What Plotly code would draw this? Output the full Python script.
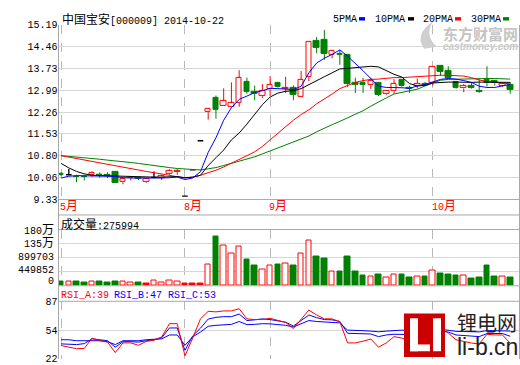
import plotly.graph_objects as go

W, H = 520, 365

# ---------------- data ----------------
month_labels = ["5月", "8月", "9月", "10月"]
month_index = [0, 16, 27, 48]

price_ticks = [9.33, 10.06, 10.80, 11.53, 12.26, 12.99, 13.73, 14.46, 15.19]
vol_ticks = [0, 449852, 899703, 1349555, 1799406]
vol_tick_text = ["0", "449852", "899703", "135万", "180万"]
rsi_ticks = [22, 54, 87]

open_ = [10.19, 10.16, 10.09, 10.09, 10.16, 10.17, 10.16, 10.24, 9.91, 10.04,
         10.04, 9.93, 10.07, 10.06, 10.19, 10.25, 9.44, 10.32, 11.30, 12.26,
         12.74, 12.48, 12.43, 12.58, 13.28, 12.95, 12.80, 13.04, 13.25, 13.03,
         13.07, 12.77, 13.44, 14.65, 14.69, 14.18, 14.23, 14.18, 13.26, 13.23,
         13.17, 13.23, 12.86, 12.96, 13.35, 13.09, 13.13, 13.22, 13.23, 13.80,
         13.64, 13.28, 13.06, 13.15, 12.99, 13.36, 13.31, 13.13, 13.18]
high = [10.25, 10.35, 10.16, 10.16, 10.27, 10.24, 10.24, 10.25, 10.05, 10.08,
        10.08, 10.03, 10.27, 10.16, 10.35, 10.35, 9.44, 10.32, 11.30, 12.40,
        12.82, 13.06, 13.26, 13.67, 13.42, 13.15, 13.20, 13.47, 13.27, 13.45,
        13.16, 13.64, 14.62, 14.78, 15.02, 14.35, 14.34, 14.20, 13.42, 13.42,
        13.42, 13.25, 13.00, 13.37, 13.36, 13.15, 13.39, 13.28, 13.80, 13.82,
        13.80, 13.30, 13.20, 13.26, 13.37, 13.80, 13.33, 13.24, 13.26]
low = [10.11, 10.16, 9.91, 9.97, 10.09, 10.06, 10.05, 9.87, 9.84, 9.97,
       9.98, 9.89, 10.06, 9.98, 10.16, 10.16, 9.44, 10.32, 11.30, 12.01,
       12.04, 12.47, 12.42, 12.44, 12.88, 12.66, 12.74, 12.80, 13.08, 12.90,
       12.66, 12.76, 13.30, 14.24, 14.02, 14.07, 13.85, 13.10, 12.90, 12.90,
       13.04, 12.80, 12.83, 12.88, 13.10, 12.91, 13.06, 13.15, 13.15, 13.48,
       13.39, 13.05, 12.93, 13.05, 12.91, 13.13, 13.15, 13.10, 12.88]
close = [10.17, 10.16, 10.08, 10.08, 10.21, 10.15, 10.13, 9.87, 10.02, 10.07,
         10.02, 10.02, 10.07, 10.11, 10.30, 10.28, 9.44, 10.32, 11.30, 12.37,
         12.34, 12.63, 12.56, 13.40, 12.95, 12.88, 12.99, 13.18, 13.10, 13.08,
         12.84, 13.35, 14.61, 14.43, 14.21, 14.32, 14.18, 13.20, 13.17, 13.18,
         13.31, 12.84, 12.99, 13.20, 13.13, 13.04, 13.22, 13.15, 13.78, 13.61,
         13.42, 13.07, 13.15, 13.07, 12.95, 13.23, 13.23, 13.22, 13.02]

volume = [140000, 130000, 140000, 110000, 150000, 130000, 120000, 140000, 130000, 110000,
          110000, 80000, 160000, 110000, 160000, 130000, 60000, 60000, 80000, 690000,
          1590000, 1280000, 1030000, 1260000, 850000, 640000, 530000, 640000, 680000, 720000,
          640000, 1030000, 1460000, 950000, 880000, 470000, 450000, 950000, 450000, 330000,
          290000, 360000, 250000, 350000, 360000, 260000, 290000, 300000, 500000, 390000,
          360000, 330000, 320000, 230000, 260000, 640000, 300000, 290000, 275994]
# 1 = up day, -1 = down day, 0 = limit / flat day
vol_trend = [-1, 1, -1, -1, 1, -1, -1, -1, 1, 1,
             -1, 0, 1, 1, 1, 1, 0, 0, 0, 1,
             -1, 1, 1, 1, -1, -1, 1, 1, -1, 1,
             -1, 1, 1, -1, -1, 1, -1, -1, -1, -1,
             1, -1, 1, 1, -1, -1, 1, -1, 1, -1,
             -1, -1, 1, -1, -1, -1, -1, 1, -1]

ma5 = [10.05, 10.11, 10.13, 10.13, 10.11, 10.11, 10.11, 10.10, 10.06, 10.05,
       10.05, 10.03, 10.05, 10.05, 10.06, 10.08, 10.00, 10.05, 10.26, 10.91,
       11.40, 11.99, 12.41, 12.69, 12.80, 12.92, 12.98, 13.06, 13.05, 13.03,
       13.02, 13.13, 13.58, 13.91, 14.07, 14.20, 14.35, 14.14, 13.91, 13.65,
       13.39, 13.13, 13.09, 13.09, 13.08, 13.06, 13.14, 13.19, 13.27, 13.36,
       13.39, 13.37, 13.32, 13.26, 13.13, 13.09, 13.09, 13.13, 13.19]
ma10 = [10.54, 10.39, 10.27, 10.19, 10.14, 10.13, 10.13, 10.11, 10.10, 10.10,
        10.10, 10.08, 10.08, 10.08, 10.10, 10.10, 10.06, 10.08, 10.14, 10.47,
        10.73, 10.99, 11.33, 11.56, 11.86, 12.18, 12.51, 12.77, 12.90, 12.96,
        12.98, 13.05, 13.19, 13.31, 13.45, 13.58, 13.71, 13.73, 13.75, 13.76,
        13.80, 13.78, 13.65, 13.53, 13.44, 13.22, 13.14, 13.16, 13.24, 13.26,
        13.27, 13.27, 13.26, 13.26, 13.27, 13.27, 13.27, 13.27, 13.26]
ma20 = [10.80, 10.75, 10.70, 10.65, 10.60, 10.57, 10.52, 10.47, 10.42, 10.37,
        10.32, 10.27, 10.23, 10.18, 10.13, 10.10, 10.05, 10.08, 10.14, 10.23,
        10.31, 10.42, 10.54, 10.67, 10.80, 10.93, 11.11, 11.33, 11.56, 11.76,
        11.99, 12.18, 12.34, 12.54, 12.70, 12.87, 13.05, 13.16, 13.26, 13.32,
        13.36, 13.37, 13.40, 13.42, 13.42, 13.44, 13.45, 13.47, 13.49, 13.50,
        13.50, 13.49, 13.47, 13.42, 13.34, 13.29, 13.26, 13.24, 13.21]
ma30 = [10.80, 10.78, 10.75, 10.73, 10.70, 10.68, 10.65, 10.63, 10.60, 10.57,
        10.54, 10.50, 10.47, 10.44, 10.40, 10.37, 10.35, 10.32, 10.32, 10.36,
        10.40, 10.47, 10.54, 10.60, 10.68, 10.76, 10.86, 10.96, 11.04, 11.14,
        11.24, 11.35, 11.46, 11.60, 11.73, 11.84, 11.95, 12.07, 12.18, 12.31,
        12.46, 12.61, 12.74, 12.87, 12.92, 12.96, 13.03, 13.14, 13.24, 13.33,
        13.36, 13.37, 13.37, 13.39, 13.39, 13.39, 13.39, 13.38, 13.37]

rsi_a = [36.4, 34.2, 32.8, 33.1, 44.9, 41.9, 40.3, 28.4, 39.4, 39.4,
         36.7, 41.1, 42.5, 46.3, 61.4, 61.4, 24.6, 44.9, 66.9, 75.5,
         74.9, 76.0, 76.0, 78.5, 66.9, 66.1, 66.1, 67.5, 65.0, 62.8,
         55.9, 66.7, 76.9, 71.4, 66.9, 66.9, 63.6, 39.4, 39.4, 41.4,
         43.8, 34.5, 39.4, 46.6, 44.9, 41.9, 48.5, 44.1, 61.4, 56.2,
         50.7, 43.0, 40.8, 39.2, 38.3, 49.3, 48.5, 48.5, 39.0]
rsi_b = [38.3, 38.1, 37.5, 38.6, 44.1, 43.0, 41.9, 34.5, 40.8, 40.8,
         40.3, 41.9, 43.0, 45.2, 56.5, 56.5, 30.9, 47.4, 56.2, 66.7,
         68.6, 69.4, 69.4, 72.4, 65.0, 65.8, 66.9, 66.1, 65.0, 63.1,
         58.7, 65.0, 71.3, 68.3, 66.1, 65.8, 63.9, 50.4, 50.4, 50.4,
         49.6, 46.6, 48.5, 49.3, 49.3, 49.0, 50.1, 49.0, 55.1, 53.4,
         51.8, 48.5, 47.7, 47.4, 46.6, 50.1, 50.1, 50.1, 47.0]
rsi_c = [43.0, 43.0, 41.9, 41.9, 41.9, 41.9, 40.8, 37.5, 41.9, 41.9,
         41.9, 43.0, 43.6, 44.1, 48.5, 48.5, 36.7, 46.3, 51.8, 58.4,
         59.5, 60.1, 60.6, 63.9, 60.3, 60.6, 61.4, 61.2, 60.6, 59.5,
         57.6, 61.7, 65.0, 63.9, 63.4, 63.4, 62.3, 54.0, 54.0, 53.4,
         52.9, 52.1, 52.9, 53.4, 54.0, 53.4, 54.0, 53.4, 56.2, 55.1,
         54.0, 52.6, 52.4, 52.2, 52.0, 53.5, 53.5, 53.5, 53.0]

# ---------------- styling ----------------
RED, GREEN, BLUE, BLACK = "#ff0000", "#008000", "#0000ff", "#000000"
GRID, BORDER = "#d6d6d6", "#a8a8a8"
MONO = "Liberation Mono, DejaVu Sans Mono, Noto Sans CJK SC, monospace"
FS = 10
BODY_W = 0.72


def px(x):
    return x / W


def py(y):
    return 1 - y / H


n = len(close)
idx = list(range(n))
fig = go.Figure()

# ---------- candles ----------
up = [i for i in idx if close[i] > open_[i]]
dn = [i for i in idx if close[i] < open_[i]]
flat = [i for i in idx if close[i] == open_[i]]


def wicks(ids):
    xs, ys = [], []
    for i in ids:
        top, bot = max(open_[i], close[i]), min(open_[i], close[i])
        if high[i] > top:
            xs += [i, i, None]
            ys += [top, high[i], None]
        if low[i] < bot:
            xs += [i, i, None]
            ys += [bot, low[i], None]
    return xs, ys


for ids, fill, col in [(up, "white", RED), (dn, GREEN, GREEN)]:
    fig.add_trace(go.Bar(
        x=ids, y=[abs(close[i] - open_[i]) for i in ids],
        base=[min(open_[i], close[i]) for i in ids], width=BODY_W,
        marker=dict(color=fill, line=dict(color=col, width=1)),
        xaxis="x", yaxis="y", hoverinfo="skip"))
    wx, wy = wicks(ids)
    fig.add_trace(go.Scatter(x=wx, y=wy, mode="lines", line=dict(color=col, width=1),
                             xaxis="x", yaxis="y", hoverinfo="skip"))

fx, fy = [], []
for i in flat:
    fx += [i - BODY_W / 2, i + BODY_W / 2, None]
    fy += [open_[i], open_[i], None]
    if high[i] > low[i]:
        fx += [i, i, None]
        fy += [low[i], high[i], None]
fig.add_trace(go.Scatter(x=fx, y=fy, mode="lines", line=dict(color=BLACK, width=1.3),
                         xaxis="x", yaxis="y", hoverinfo="skip"))

# ---------- moving averages ----------
for arr, col in [(ma30, GREEN), (ma20, RED), (ma10, BLACK), (ma5, BLUE)]:
    fig.add_trace(go.Scatter(x=idx, y=arr, mode="lines", line=dict(color=col, width=1),
                             xaxis="x", yaxis="y", hoverinfo="skip"))

# ---------- volume ----------
for t, fill, col in [(1, "white", RED), (-1, GREEN, GREEN), (0, RED, RED)]:
    ids = [i for i in idx if vol_trend[i] == t]
    fig.add_trace(go.Bar(x=ids, y=[volume[i] for i in ids], width=BODY_W,
                         marker=dict(color=fill, line=dict(color=col, width=1)),
                         xaxis="x", yaxis="y2", hoverinfo="skip"))

# ---------- RSI ----------
for arr, col in [(rsi_c, BLUE), (rsi_b, BLUE), (rsi_a, RED)]:
    fig.add_trace(go.Scatter(x=idx, y=arr, mode="lines", line=dict(color=col, width=1),
                             xaxis="x", yaxis="y3", hoverinfo="skip"))

# ---------- axes ----------
fig.update_layout(
    width=W, height=H, margin=dict(l=0, r=0, t=0, b=0),
    paper_bgcolor="white", plot_bgcolor="white", showlegend=False,
    barmode="overlay", bargap=0,
    xaxis=dict(domain=[px(58.5), px(519.5)], range=[-0.33, 59.2],
               tickvals=month_index, showticklabels=False, ticks="",
               showgrid=True, gridcolor="#b8b8b8", griddash="dash", gridwidth=1,
               zeroline=False, showline=False, anchor="y", fixedrange=True),
    yaxis=dict(domain=[py(200.5), py(20.5)], range=[price_ticks[0], price_ticks[-1]],
               tickvals=price_ticks, ticktext=[f"{v:.2f}" for v in price_ticks],
               tickfont=dict(family=MONO, size=FS, color=BLACK), ticks="",
               showgrid=True, gridcolor=GRID, zeroline=False, anchor="x"),
    yaxis2=dict(domain=[py(289.5), py(231.5)], range=[0, vol_ticks[-1]],
                tickvals=vol_ticks, showticklabels=False, ticks="",
                showgrid=True, gridcolor=GRID, zeroline=False, anchor="x"),
    yaxis3=dict(domain=[0, py(305.5)], range=[21, 87],
                tickvals=rsi_ticks, ticktext=[str(v) for v in rsi_ticks],
                tickfont=dict(family=MONO, size=FS, color=BLACK), ticks="",
                showgrid=True, gridcolor=GRID, zeroline=False, anchor="x"),
)

# ---------- borders ----------
shapes = []
for x in (58.5, 519.5):
    shapes.append(dict(type="line", xref="paper", yref="paper", x0=px(x), x1=px(x),
                       y0=py(20.5), y1=py(365), line=dict(color=BORDER, width=1)))
for y in (200.5, 216.5, 231.5, 289.5, 305.5):
    shapes.append(dict(type="line", xref="paper", yref="paper", x0=px(58.5), x1=px(519.5),
                       y0=py(y), y1=py(y), line=dict(color=BORDER, width=1)))

# legend dashes
for x0, col in [(359, BLUE), (408, BLACK), (455, RED), (503, GREEN)]:
    shapes.append(dict(type="rect", xref="paper", yref="paper", x0=px(x0), x1=px(x0 + 6),
                       y0=py(16), y1=py(12.5), fillcolor=col, line=dict(width=0)))

# east money watermark icon
shapes.append(dict(type="path", xref="paper", yref="paper",
                   path="M {} {} Q {} {} {} {} Q {} {} {} {} Z".format(
                       px(424), py(45), px(414), py(30), px(433), py(17),
                       px(424), py(32), px(437), py(43)),
                   fillcolor="#cfcfcf", line=dict(width=0)))

# LI logo
shapes.append(dict(type="rect", xref="paper", yref="paper", x0=px(404), x1=px(445),
                   y0=py(363), y1=py(318), fillcolor="#cc0000", line=dict(width=0),
                   layer="above"))
for (x0, x1, y0, y1) in [(410, 418, 323, 357), (410, 430, 350, 357), (433, 441, 323, 357)]:
    shapes.append(dict(type="rect", xref="paper", yref="paper", x0=px(x0), x1=px(x1),
                       y0=py(y1), y1=py(y0), fillcolor="white", line=dict(width=0),
                       layer="above"))
fig.update_layout(shapes=shapes)

# ---------- texts ----------
ann = []


def text(x, y, s, color=BLACK, size=FS, anchor="left", family=MONO):
    ann.append(dict(xref="paper", yref="paper", x=px(x), y=py(y), text=s,
                    showarrow=False, xanchor=anchor, yanchor="middle",
                    font=dict(family=family, size=size, color=color)))


cj = '<span style="font-size:12px">{}</span>'
text(60, 15, cj.format("中国宝安") + "[000009] 2014-10-22")
text(331, 14.5, "5PMA")
text(373, 14.5, "10PMA")
text(421, 14.5, "20PMA")
text(469, 14.5, "30PMA")

text(59, 227, cj.format("成交量") + ":" + f"{volume[-1]}")
text(59, 300, f"RSI_A:{rsi_a[-1]:.0f}", color=RED)
text(112, 300, f"RSI_B:{rsi_b[-1]:.0f}", color=BLUE)
text(166, 300, f"RSI_C:{rsi_c[-1]:.0f}", color=BLUE)

for lab, i in zip(month_labels, month_index):
    num, ch = lab[:-1], lab[-1]
    ann.append(dict(xref="x", yref="paper", x=i, y=py(208.5), xanchor="left", yanchor="middle",
                    xshift=-3, text=num + cj.format(ch), showarrow=False,
                    font=dict(family=MONO, size=FS, color=RED)))

for v, s, dy in zip(vol_ticks, vol_tick_text, [-4.5, -1, 0, 0, 1.5]):
    lab = s if "万" not in s else s[:-1] + cj.format("万")
    ann.append(dict(xref="paper", yref="y2", x=px(56), y=v, xanchor="right", yanchor="middle",
                    yshift=-dy, text=lab, showarrow=False,
                    font=dict(family=MONO, size=FS, color=BLACK)))

# watermark (east money)
text(441, 29.5, "<b>东方财富网</b>", color="#c4c4c4", size=15, family="Noto Sans CJK SC")
text(441, 43, "<b><i>eastmoney.com</i></b>", color="#c8c8c8", size=10, family="Liberation Sans")

# LI logo text
ann.append(dict(xref="paper", yref="paper", x=px(487), y=py(327.5), text="锂电网",
                showarrow=False, xanchor="center", yanchor="middle",
                font=dict(family="Noto Sans CJK SC", size=20, color="#222222")))
ann.append(dict(xref="paper", yref="paper", x=px(487), y=py(353), text="li-b.cn",
                showarrow=False, xanchor="center", yanchor="middle",
                font=dict(family="Liberation Sans", size=23, color="#222222")))

fig.update_layout(annotations=ann)
fig.write_html("out.html", config={"displayModeBar": False},
               post_script="document.body.style.margin='0';")
